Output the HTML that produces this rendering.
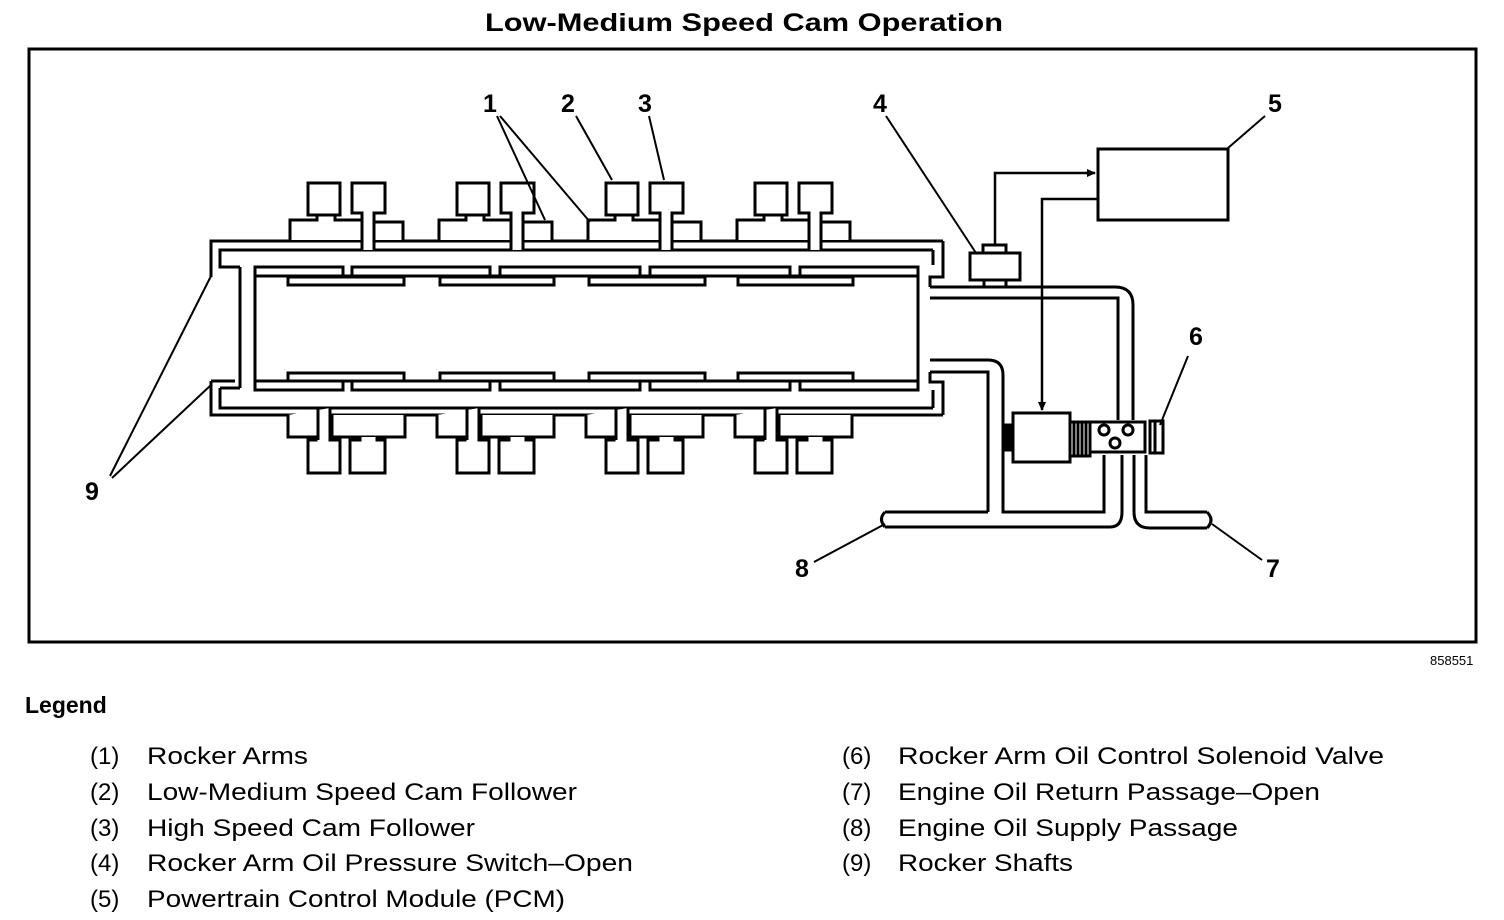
<!DOCTYPE html>
<html><head><meta charset="utf-8"><style>
html,body{margin:0;padding:0;background:#fff;}
svg{display:block;}
text{font-family:"Liberation Sans",sans-serif;fill:#000;}
</style></head><body>
<svg width="1504" height="920" viewBox="0 0 1504 920" xmlns="http://www.w3.org/2000/svg">
<defs>
<marker id="ar" markerWidth="10" markerHeight="10" refX="8" refY="5" orient="auto" markerUnits="userSpaceOnUse"><path d="M0,1 L9,5 L0,9 Z" fill="#000"/></marker>
<g id="top">
  <path d="M290,240 V220 H317 V215 H335 V220 H362 V240" />
  <rect x="308" y="183" width="32" height="32"/>
  <path d="M362,250 V213 H352 V183 H385 V213 H374 V250"/>
  <path d="M374,240 V222 H403 V240"/>
</g>
<g id="bot">
  <path d="M288,415 V437 H316 V440 H308 V473 H340 V440 H330 V408"/>
  <path d="M318,408 V440"/>
  <path d="M332,415 V437 H405 V415"/>
  <path d="M340,437 V440"/>
  <path d="M360,437 V440 H350 V473 H385 V440 H377 V437"/>
</g>
</defs>
<text x="744" y="31" text-anchor="middle" font-size="25" font-weight="bold" textLength="518" lengthAdjust="spacingAndGlyphs">Low-Medium Speed Cam Operation</text>
<rect x="29" y="49" width="1447" height="593" fill="none" stroke="#000" stroke-width="3"/>

<g fill="#fff" stroke="#000" stroke-width="3" stroke-linejoin="miter">
  <path d="M943,241 H211 V277" fill="none"/>
  <path d="M933,250 H220 V267 H240" fill="none"/>
  <path d="M240,267 V388" fill="none"/>
  <path d="M220,388 H240 M220,388 V408 H933" fill="none"/>
  <path d="M211,381 H235 M211,381 V415 H943" fill="none"/>
  <path d="M943,241 V277 H930 V287" fill="none"/>
  <path d="M933,250 V265" fill="none"/>
  <path d="M943,415 V382 H930 V372" fill="none"/>
  <path d="M933,408 V390" fill="none"/>
  <rect x="255" y="276" width="663" height="105" fill="none"/>
  <g>
    <rect x="255" y="267" width="88" height="9"/><rect x="352" y="267" width="138" height="9"/><rect x="500" y="267" width="140" height="9"/><rect x="650" y="267" width="140" height="9"/><rect x="800" y="267" width="118" height="9"/>
    <rect x="255" y="381" width="88" height="9"/><rect x="352" y="381" width="138" height="9"/><rect x="500" y="381" width="140" height="9"/><rect x="650" y="381" width="140" height="9"/><rect x="800" y="381" width="118" height="9"/>
    <rect x="288" y="277" width="116" height="8"/><rect x="440" y="277" width="114" height="8"/><rect x="589" y="277" width="116" height="8"/><rect x="738" y="277" width="115" height="8"/>
    <rect x="288" y="373" width="116" height="8"/><rect x="440" y="373" width="114" height="8"/><rect x="589" y="373" width="116" height="8"/><rect x="738" y="373" width="115" height="8"/>
  </g>
  <use href="#top"/><use href="#top" x="149"/><use href="#top" x="298"/><use href="#top" x="447"/>
  <use href="#bot"/><use href="#bot" x="149"/><use href="#bot" x="298"/><use href="#bot" x="447"/>
</g>
<g fill="none" stroke="#000" stroke-width="3">
  <path d="M930,287 H1115 Q1133,287 1133,305 V420"/>
  <path d="M930,298 H1118 V420"/>
  <path d="M930,360 H988 Q1003,360 1003,375 V512 H1104 V455"/>
  <path d="M930,372 H988 V512"/>
  <path d="M885,512 H988"/>
  <path d="M885,527 H1110 Q1122,527 1122,512 V455"/>
  <path d="M885,512 Q878,519 885,527"/>
  <path d="M1134,455 V512 Q1134,528 1150,528 H1207"/>
  <path d="M1146,455 V512 H1207"/>
  <path d="M1207,512 Q1215,520 1207,528"/>
  <rect x="970" y="253" width="50" height="27"/>
  <rect x="983" y="245" width="23" height="8"/>
  <path d="M984,280 V287 M1006,280 V287"/>
  <rect x="1098" y="149" width="130" height="71"/>
  <rect x="1013" y="413" width="57" height="49"/>
  <rect x="1003" y="425" width="10" height="25" fill="#000"/>
  <rect x="1070" y="422" width="20" height="34"/>
  <path d="M1074,422 V456 M1078,422 V456 M1082,422 V456 M1086,422 V456"/>
  <path d="M1090,422 H1145 V452 H1090"/>
  <circle cx="1104" cy="430" r="5"/><circle cx="1128" cy="430" r="5"/><circle cx="1115" cy="443" r="5"/>
  <rect x="1150" y="421" width="13" height="32"/>
  <path d="M1155,421 V453"/>
</g>
<g fill="none" stroke="#000" stroke-width="2.5">
  <path d="M995,245 V173 H1095" marker-end="url(#ar)"/>
  <path d="M1098,199 H1042 V410" marker-end="url(#ar)"/>
</g>
<g stroke="#000" stroke-width="2" fill="none">
  <path d="M497,116 L545,220 M500,116 L590,222"/>
  <path d="M576,116 L612,180"/>
  <path d="M649,116 L664,180"/>
  <path d="M886,116 L976,253"/>
  <path d="M1265,116 L1228,148"/>
  <path d="M1188,356 L1160,425"/>
  <path d="M1262,560 L1212,524"/>
  <path d="M814,562 L885,524"/>
  <path d="M110,476 L211,276 M112,478 L211,385"/>
</g>
<g font-size="25" font-weight="bold" text-anchor="middle">
  <text x="490" y="112">1</text><text x="568" y="112">2</text><text x="645" y="112">3</text>
  <text x="880" y="112">4</text><text x="1275" y="112">5</text><text x="1196" y="345">6</text>
  <text x="1273" y="577">7</text><text x="802" y="577">8</text><text x="92" y="500">9</text>
</g>
<text x="1430" y="665" font-size="13">858551</text>
<text x="25" y="713" font-size="23" font-weight="bold">Legend</text>
<g font-size="24">
  <text x="90" y="764">(1)</text><text x="147" y="764" textLength="161" lengthAdjust="spacingAndGlyphs">Rocker Arms</text>
  <text x="90" y="800">(2)</text><text x="147" y="800" textLength="430" lengthAdjust="spacingAndGlyphs">Low-Medium Speed Cam Follower</text>
  <text x="90" y="836">(3)</text><text x="147" y="836" textLength="328" lengthAdjust="spacingAndGlyphs">High Speed Cam Follower</text>
  <text x="90" y="871">(4)</text><text x="147" y="871" textLength="486" lengthAdjust="spacingAndGlyphs">Rocker Arm Oil Pressure Switch–Open</text>
  <text x="90" y="907">(5)</text><text x="147" y="907" textLength="418" lengthAdjust="spacingAndGlyphs">Powertrain Control Module (PCM)</text>
  <text x="842" y="764">(6)</text><text x="898" y="764" textLength="486" lengthAdjust="spacingAndGlyphs">Rocker Arm Oil Control Solenoid Valve</text>
  <text x="842" y="800">(7)</text><text x="898" y="800" textLength="422" lengthAdjust="spacingAndGlyphs">Engine Oil Return Passage–Open</text>
  <text x="842" y="836">(8)</text><text x="898" y="836" textLength="340" lengthAdjust="spacingAndGlyphs">Engine Oil Supply Passage</text>
  <text x="842" y="871">(9)</text><text x="898" y="871" textLength="175" lengthAdjust="spacingAndGlyphs">Rocker Shafts</text>
</g>
</svg>
</body></html>
